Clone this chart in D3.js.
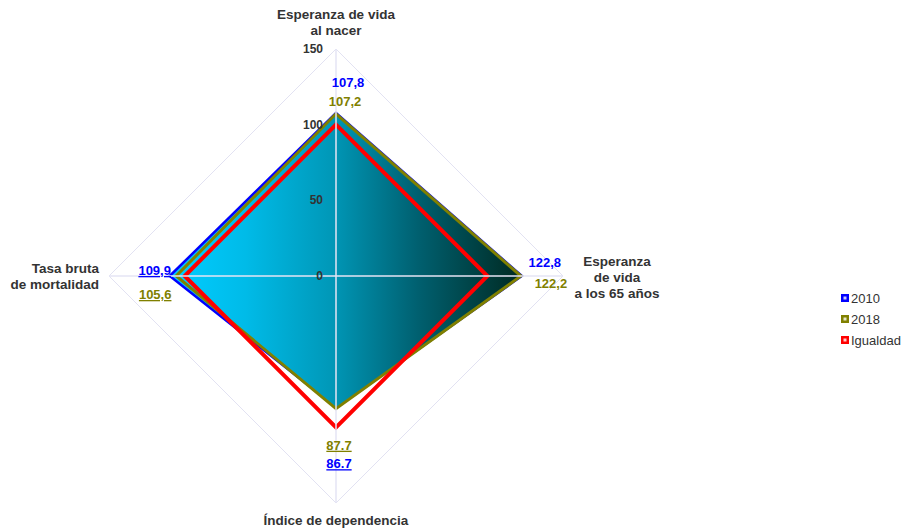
<!DOCTYPE html>
<html><head><meta charset="utf-8">
<script src="https://cdn.jsdelivr.net/npm/d3@7"></script>
<style>body{margin:0;background:#fff;}svg{display:block;font-family:"Liberation Sans",Arial,sans-serif;}</style>
</head><body>
<svg id="c" width="901" height="528"></svg>
<script>
const categories = ["Esperanza de vida al nacer","Esperanza de vida a los 65 años","Índice de dependencia","Tasa bruta de mortalidad"];
const categoryLines = [["Esperanza de vida","al nacer"],["Esperanza","de vida","a los 65 años"],["Índice de dependencia"],["Tasa bruta","de mortalidad"]];
const seriesNames = ["2010","2018","Igualdad"];
const values2010 = [107.8,122.8,86.7,109.9];
const values2018 = [107.2,122.2,87.7,105.6];
const valuesIgualdad = [100,100,100,100];
const labels2010 = ["107,8","122,8","86.7","109,9"];
const labels2018 = ["107,2","122,2","87.7","105,6"];
const tickValues = [0,50,100,150];

const svg = d3.select("#c");
const cx = 336, cy = 276;
const r = d3.scaleLinear().domain([0,150]).range([0,227]);
const ang = d3.scalePoint().domain(d3.range(categories.length)).range([0, 2*Math.PI*(categories.length-1)/categories.length]);
const pt = (i,v) => [cx + r(v)*Math.sin(ang(i)), cy - r(v)*Math.cos(ang(i))];

const defs = svg.append("defs");
const g = defs.append("linearGradient").attr("id","fillg").attr("x1","0").attr("x2","1").attr("y1","0").attr("y2","0");
[[0,"#00CCFF"],[0.2,"#00BBE8"],[0.45,"#0098B8"],[0.7,"#006070"],[1,"#002A22"]].forEach(s=>g.append("stop").attr("offset",s[0]).attr("stop-color",s[1]));

// grid
const gridColor = "#E2E2F2";
tickValues.filter(t=>t>0).forEach(t=>{
  svg.append("polygon").attr("points", categories.map((c,i)=>pt(i,t).join(",")).join(" "))
    .attr("fill","none").attr("stroke",gridColor).attr("stroke-width",1);
});

const line = d3.line().curve(d3.curveLinearClosed);
const poly = vals => line(vals.map((v,i)=>pt(i,v)));

svg.append("path").attr("d",poly(values2010)).attr("fill","url(#fillg)").attr("stroke","#0000FF").attr("stroke-width",2.5).attr("stroke-linejoin","miter");
svg.append("path").attr("d",poly(values2018)).attr("fill","url(#fillg)").attr("stroke","#808000").attr("stroke-width",3).attr("stroke-linejoin","miter");
svg.append("path").attr("d",poly(valuesIgualdad)).attr("fill","none").attr("stroke","#FF0000").attr("stroke-width",4).attr("stroke-linejoin","miter");

// spokes
categories.forEach((c,i)=>{
  const p = pt(i,150);
  svg.append("line").attr("x1",cx).attr("y1",cy).attr("x2",p[0]).attr("y2",p[1]).attr("stroke","#E4E4F4").attr("stroke-width",1.5);
});

// tick labels
tickValues.forEach(t=>{
  svg.append("text").attr("x",cx-13).attr("y",cy - r(t)+4).attr("text-anchor","end")
    .attr("font-size",12).attr("font-weight","bold").attr("fill","#333").text(t);
});

// value labels
const lblStyle = (sel,color,underline)=>sel.attr("font-size",13).attr("font-weight","bold").attr("fill",color).attr("text-decoration",underline?"underline":null);
const offs2010 = [[12,-31],[23,-14],[3,56],[-15,-6]];
const offs2018 = [[9,-13],[30,7],[3,36],[-21,18]];
values2010.forEach((v,i)=>{
  const p = pt(i,v);
  lblStyle(svg.append("text").attr("x",p[0]+offs2010[i][0]).attr("y",p[1]+offs2010[i][1]+5).attr("text-anchor","middle"),"#0000FF",i>=2).text(labels2010[i]);
});
values2018.forEach((v,i)=>{
  const p = pt(i,v);
  lblStyle(svg.append("text").attr("x",p[0]+offs2018[i][0]).attr("y",p[1]+offs2018[i][1]+5).attr("text-anchor","middle"),"#808000",i>=2).text(labels2018[i]);
});

// category labels
const catPos = [[336,19,"middle"],[617,266,"middle"],[336,525,"middle"],[99,273,"end"]];
categoryLines.forEach((lines,i)=>{
  const t = svg.append("text").attr("text-anchor",catPos[i][2]).attr("font-size",13.5).attr("font-weight","bold").attr("fill","#333");
  lines.forEach((l,j)=>t.append("tspan").attr("x",catPos[i][0]).attr("y",catPos[i][1]+j*16).text(l));
});

// legend
const legColors = ["#0000FF","#808000","#FF0000"];
seriesNames.forEach((n,i)=>{
  const y = 298 + i*21;
  svg.append("rect").attr("x",841).attr("y",y-4).attr("width",8).attr("height",8).attr("fill",legColors[i]);
  svg.append("rect").attr("x",843.5).attr("y",y-1.5).attr("width",3).attr("height",3).attr("fill","#fff").attr("opacity",0.8);
  svg.append("text").attr("x",851).attr("y",y+4.5).attr("font-size",13).attr("fill","#333").text(n);
});
</script>
</body></html>
